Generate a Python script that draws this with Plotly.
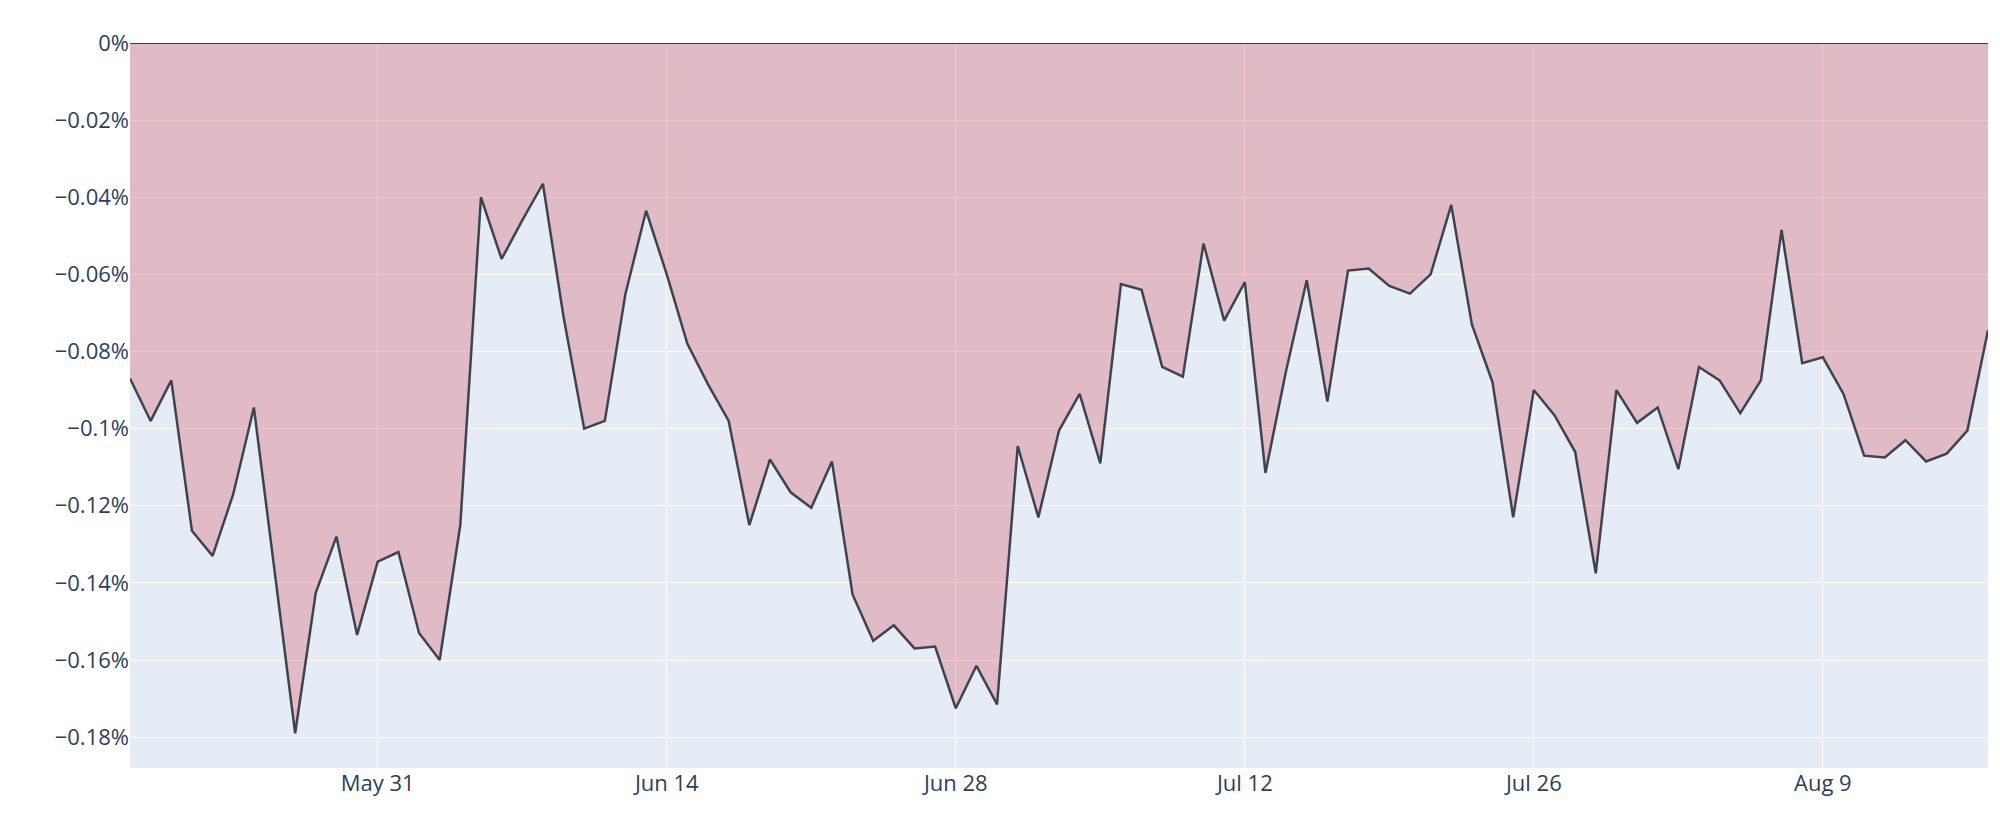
import pandas as pd
import plotly.graph_objects as go

dates = pd.date_range("2026-05-19", "2026-08-17", freq="D")
drawdown_pct = [
    -0.087, -0.098, -0.0875, -0.1265, -0.133, -0.117, -0.0945, -0.137, -0.179, -0.1425,
    -0.128, -0.1535, -0.1345, -0.132, -0.153, -0.160, -0.125, -0.040, -0.056, -0.046,
    -0.0365, -0.071, -0.100, -0.098, -0.065, -0.0435, -0.060, -0.078, -0.0885, -0.098,
    -0.125, -0.108, -0.1165, -0.1205, -0.1085, -0.143, -0.155, -0.151, -0.157, -0.1565,
    -0.1725, -0.1615, -0.1715, -0.1045, -0.123, -0.1005, -0.091, -0.109, -0.0625, -0.064,
    -0.084, -0.0865, -0.052, -0.072, -0.062, -0.1115, -0.085, -0.0615, -0.093, -0.059,
    -0.0585, -0.063, -0.065, -0.060, -0.042, -0.073, -0.088, -0.123, -0.090, -0.0965,
    -0.106, -0.1375, -0.090, -0.0985, -0.0945, -0.1105, -0.084, -0.0875, -0.096, -0.0875,
    -0.0485, -0.083, -0.0815, -0.091, -0.107, -0.1075, -0.103, -0.1085, -0.1065, -0.1005,
    -0.0745,
]
drawdown = [v / 100 for v in drawdown_pct]

fig = go.Figure()
fig.add_trace(go.Scatter(x=dates, y=[0] * len(dates), mode="lines",
                         line=dict(color="#2a3f5f", width=2), showlegend=False))
fig.add_trace(go.Scatter(x=dates, y=drawdown, mode="lines", fill="tonexty",
                         fillcolor="rgba(210,40,50,0.25)",
                         line=dict(color="#3d4450", width=2.5), showlegend=False))

fig.update_layout(
    width=2000, height=840,
    margin=dict(l=122, r=20, t=35, b=80),
    font=dict(size=22, color="#2a3f5f"),
    xaxis=dict(range=[dates[0], dates[-1]], dtick=14 * 86400000,
               tick0="2026-05-31", tickformat="%b %d\n%Y"),
    yaxis=dict(range=[-0.00188, 0], tickformat=".2~%", dtick=0.0002),
)
fig.update_xaxes(tickformat="%b %-d", tickformatstops=[])
fig.write_html("out.html")
